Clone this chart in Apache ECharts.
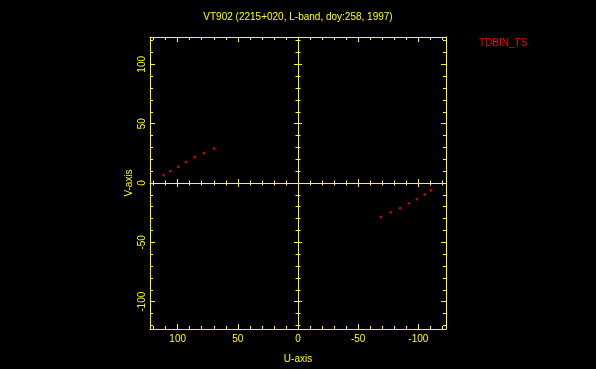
<!DOCTYPE html>
<html>
<head>
<meta charset="utf-8">
<script src="https://cdn.jsdelivr.net/npm/echarts@6/dist/echarts.min.js"></script>
<style>html,body{margin:0;padding:0;background:#000;}#c{width:596px;height:369px;}</style>
</head>
<body>
<div id="c"></div>
<script>
// Data (U, V in the plot's units)
const uValues = [111.7, 106.1, 99.4, 93.0, 85.8, 78.0, 69.7, -68.9, -77.0, -85.0, -92.3, -99.0, -105.3, -110.6];
const vValues = [6.7, 10.0, 13.7, 17.6, 21.8, 25.1, 29.0, -28.7, -24.8, -21.2, -17.2, -13.6, -9.7, -6.1];
const majorTicks = [-100, -50, 0, 50, 100];
const minorTicks = [-120, -110, -90, -80, -70, -60, -40, -30, -20, -10, 10, 20, 30, 40, 60, 70, 80, 90, 110, 120];
const tickLabels = [-100, -50, 0, 50, 100];
const titleText = 'VT902 (2215+020, L-band, doy:258, 1997)';
const tagText = 'TDBIN_TS';
const xName = 'U-axis';
const yName = 'V-axis';
const axisMin = -123, axisMax = 123;

const YEL = '#ffff00';
const FONT = 'Liberation Sans';

function mkAxis(dim, opts) {
  const a = {
    type: 'value', min: axisMin, max: axisMax, gridIndex: 0,
    position: opts.position,
    splitLine: {show: false},
    axisLine: {show: !!opts.line, onZero: !!opts.onZero, lineStyle: {color: YEL, width: 1}},
    axisTick: {show: true, inside: opts.inside, length: opts.len, customValues: opts.ticks, lineStyle: {color: YEL, width: 1}},
    axisLabel: {show: false}
  };
  if (opts.onZero) a.axisLine.onZeroAxisIndex = 0;
  if (dim === 'x') a.inverse = true;
  if (opts.labels) {
    a.axisLabel = {show: true, customValues: tickLabels, color: YEL, fontFamily: FONT, fontSize: 10,
      margin: opts.margin, rotate: dim === 'y' ? 90 : 0};
    a.name = opts.name;
    a.nameLocation = 'middle';
    a.nameGap = opts.nameGap;
    a.nameTextStyle = {color: YEL, fontFamily: FONT, fontSize: 10};
  }
  return a;
}

const xAxes = [
  mkAxis('x', {position: 'bottom', line: true, inside: true, len: 5, ticks: majorTicks, labels: true, margin: 5, name: xName, nameGap: 25}),
  mkAxis('x', {position: 'bottom', inside: true, len: 3, ticks: minorTicks}),
  mkAxis('x', {position: 'top', line: true, inside: true, len: 5, ticks: majorTicks}),
  mkAxis('x', {position: 'top', inside: true, len: 3, ticks: minorTicks}),
  mkAxis('x', {position: 'bottom', line: true, onZero: true, inside: true, len: 4, ticks: majorTicks}),
  mkAxis('x', {position: 'bottom', onZero: true, inside: false, len: 4, ticks: majorTicks}),
  mkAxis('x', {position: 'bottom', onZero: true, inside: true, len: 2.5, ticks: minorTicks}),
  mkAxis('x', {position: 'bottom', onZero: true, inside: false, len: 2.5, ticks: minorTicks})
];
const yAxes = [
  mkAxis('y', {position: 'left', line: true, inside: true, len: 5, ticks: majorTicks, labels: true, margin: 3, name: yName, nameGap: 16}),
  mkAxis('y', {position: 'left', inside: true, len: 3, ticks: minorTicks}),
  mkAxis('y', {position: 'right', line: true, inside: true, len: 5, ticks: majorTicks}),
  mkAxis('y', {position: 'right', inside: true, len: 3, ticks: minorTicks}),
  mkAxis('y', {position: 'left', line: true, onZero: true, inside: true, len: 4, ticks: majorTicks}),
  mkAxis('y', {position: 'left', onZero: true, inside: false, len: 4, ticks: majorTicks}),
  mkAxis('y', {position: 'left', onZero: true, inside: true, len: 2.5, ticks: minorTicks}),
  mkAxis('y', {position: 'left', onZero: true, inside: false, len: 2.5, ticks: minorTicks})
];

const points = uValues.map((u, i) => [u, vValues[i]]);

const chart = echarts.init(document.getElementById('c'), null, {renderer: 'canvas'});
chart.setOption({
  backgroundColor: '#000',
  animation: false,
  title: [
    {text: titleText, left: 'center', top: 7, textStyle: {color: YEL, fontFamily: FONT, fontSize: 10, fontWeight: 'normal'}},
    {text: tagText, left: 474, top: 33, textStyle: {color: '#ff0000', fontFamily: FONT, fontSize: 10, fontWeight: 'normal'}}
  ],
  grid: {left: 150, top: 37, width: 296, height: 294, containLabel: false},
  xAxis: xAxes,
  yAxis: yAxes,
  series: [{
    type: 'scatter', xAxisIndex: 0, yAxisIndex: 0,
    data: points, symbol: 'rect', symbolSize: 2.5,
    itemStyle: {color: '#ff0000'}
  }]
});
</script>
</body>
</html>
